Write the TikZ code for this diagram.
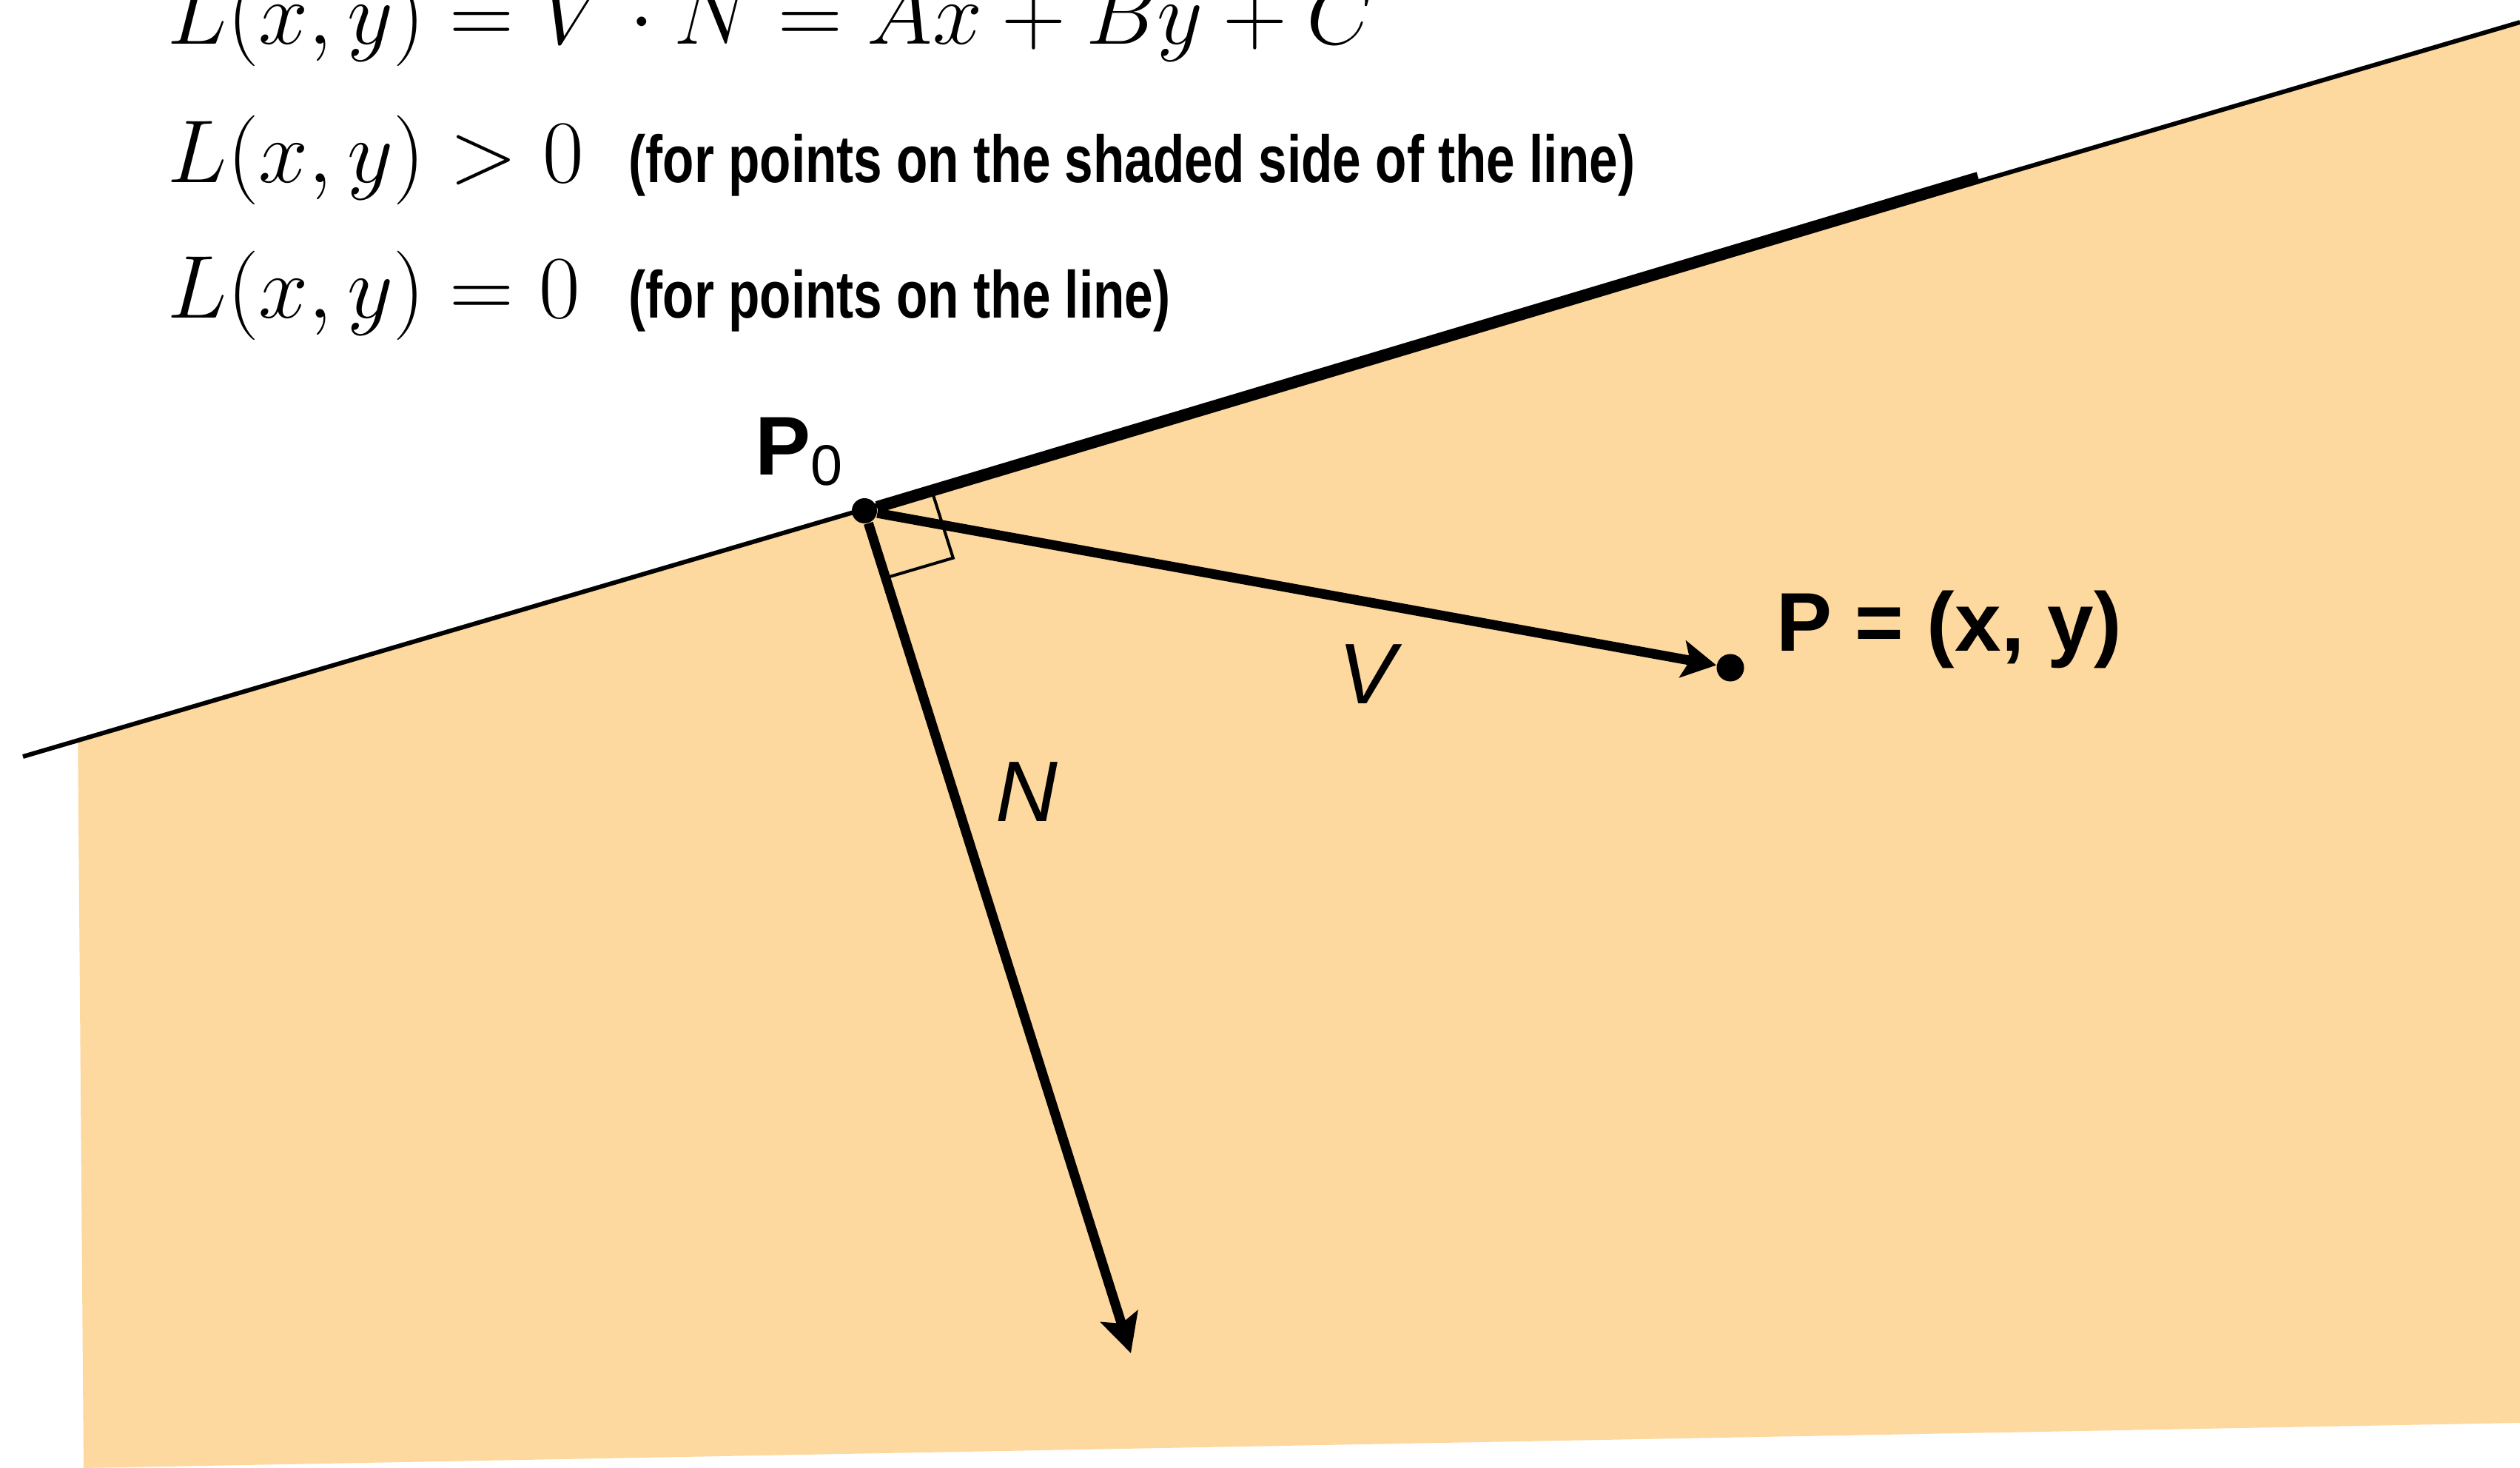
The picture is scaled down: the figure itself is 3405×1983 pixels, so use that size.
\RequirePackage{fix-cm}
\documentclass[tikz,border=0pt]{standalone}
\usepackage{fontspec}
\usepackage{tikz}
\usetikzlibrary{arrows.meta, calc}
\usepackage{xcolor}
\setsansfont{Liberation Sans}
\newfontfamily\condbold{Liberation Sans}[FakeStretch=0.77]
\definecolor{halfplane}{HTML}{FDD89F}

\begin{document}
\begin{tikzpicture}[
      x=0.01cm, y=-0.01cm,
      dot/.style={circle, fill=black, inner sep=0pt, minimum size=0.35cm},
      vec/.style={-{Stealth[length=0.46cm, width=0.5cm, inset=0.1cm]}, line width=0.13cm},
      eqn/.style={inner sep=0pt, anchor=base west, font=\fontsize{34.3}{40}\selectfont},
      note/.style={inner sep=0pt, anchor=base west, font=\fontsize{25.6}{30}\condbold\bfseries},
      lbl/.style={inner sep=0pt, anchor=base west, font=\fontsize{32}{38}\sffamily\bfseries},
      veclbl/.style={inner sep=0pt, anchor=base west, font=\fontsize{33}{40}\sffamily\itshape},
    ]
    \clip (0,0) rectangle (3405,1983);

    \coordinate (lineL) at (31,1022);
    \coordinate (lineR) at (3405,30);
    \coordinate (segEnd) at (2673,240);
    \coordinate (Ntip) at (1528,1828);

    \fill[halfplane] ($(lineL)!0.022!(lineR)$) -- (lineR) -- (3405,1922) -- (113,1983) -- cycle;

    \node[dot, minimum size=0.34cm] (P0) at (1168,690) {};
    \node[dot, minimum size=0.37cm] (P) at (2338,902) {};

    \draw[line width=0.06cm] (lineL) -- (lineR);
    \draw[line width=0.16cm] (P0) -- (segEnd);

    \draw[vec] (P0) -- (P);
    \draw[vec, -{Stealth[length=0.52cm, width=0.52cm, inset=0.1cm]}] (P0) -- (Ntip);

    \coordinate (sqA) at ($(P0.center)!0.95cm!(lineR)$);
    \coordinate (sqB) at ($(P0.center)!0.95cm!(Ntip)$);
    \draw[line width=0.04cm] (sqA) -- ($(sqA)+(sqB)-(P0.center)$) -- (sqB);

    \node[eqn] (eq1) at (226,60) {$L(x,y) = V\cdot N = Ax+By+C$};
    \node[eqn] (eq2) at (226,247) {$L(x,y) > 0$};
    \node[note] (note2) at (849,247) {(for points on the shaded side of the line)};
    \node[eqn] (eq3) at (226,430) {$L(x,y) = 0$};
    \node[note] (note3) at (849,430) {(for points on the line)};

    \node[lbl] (lblP0) at (1020,642) {P\raisebox{-0.14cm}{\fontsize{22}{22}\selectfont\mdseries 0}};
    \node[lbl] (lblP) at (2400,880) {P = (x, y)};
    \node[veclbl] (lblV) at (1808,951) {V};
    \node[veclbl] (lblN) at (1345,1110) {N};
  \end{tikzpicture}
\end{document}
